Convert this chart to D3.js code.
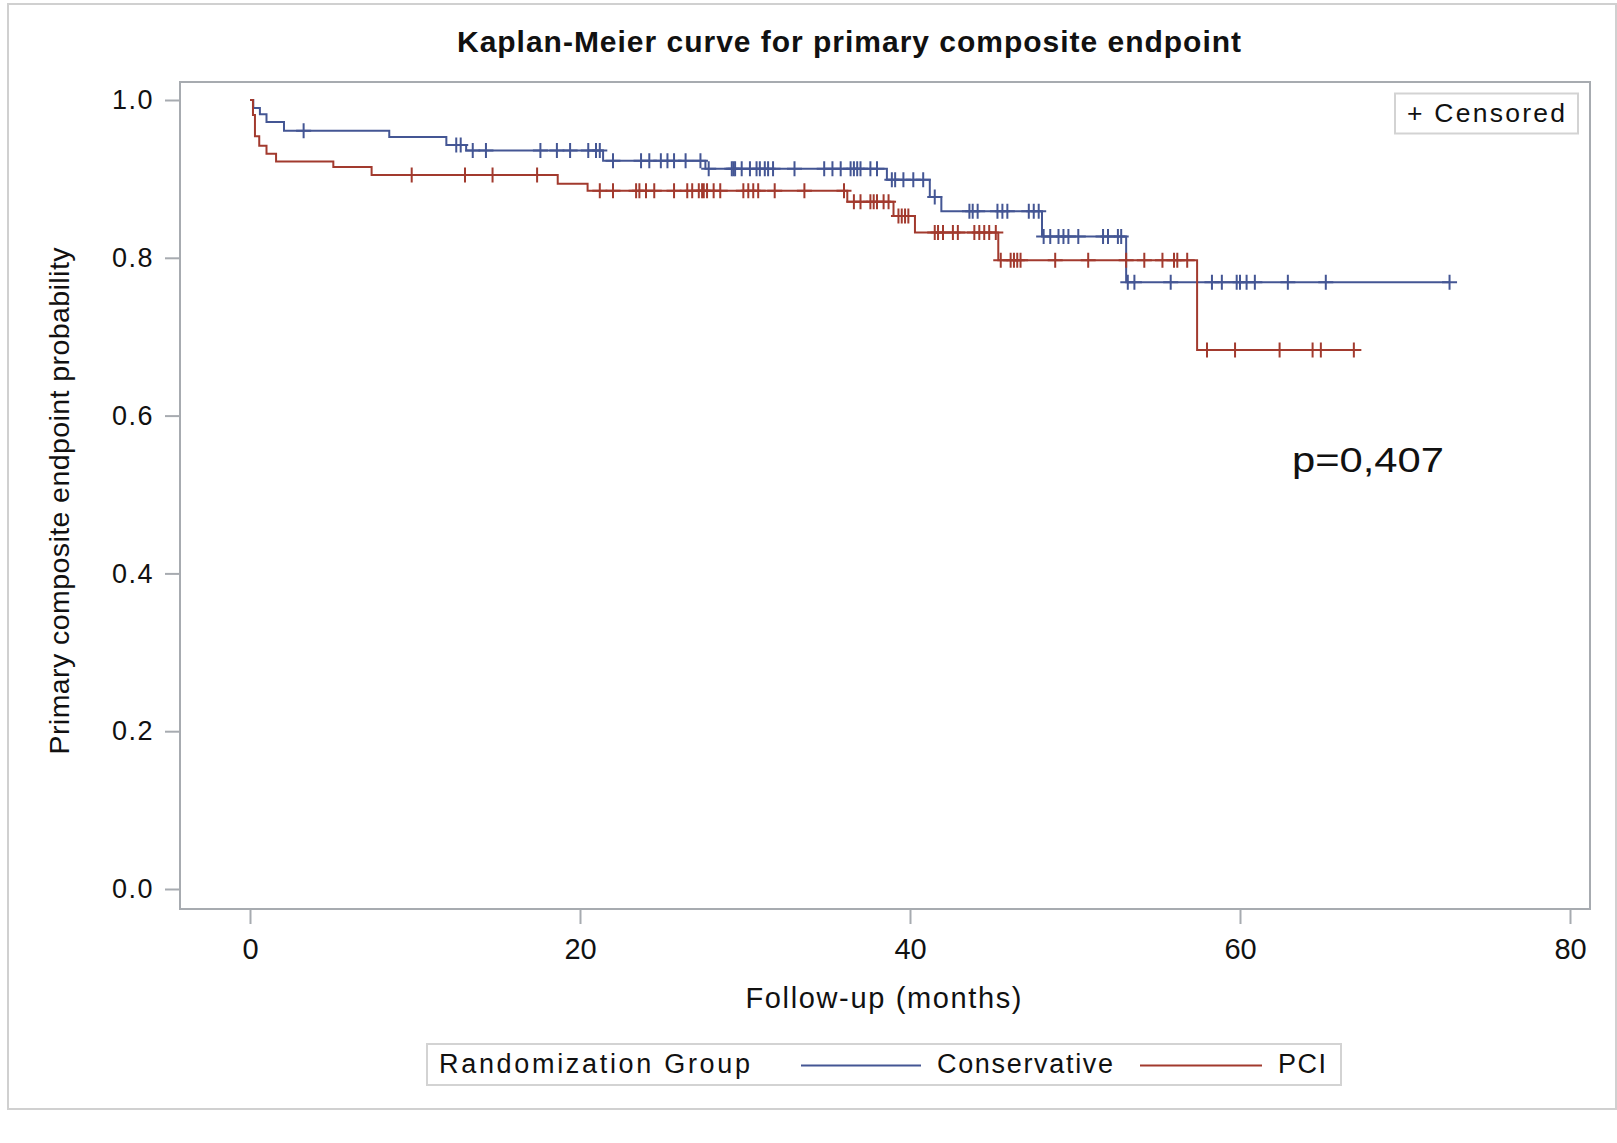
<!DOCTYPE html>
<html>
<head>
<meta charset="utf-8">
<script src="https://cdn.jsdelivr.net/npm/d3@7"></script>
<style>
  html, body { margin: 0; padding: 0; background: #ffffff; }
  svg { display: block; }
  text { font-family: "Liberation Sans", Arial, sans-serif; fill: #111; }
</style>
</head>
<body>
<svg id="chart" width="1617" height="1143"></svg>
<script>
// ---------------- data ----------------
const chartTitle = "Kaplan-Meier curve for primary composite endpoint";
const xAxisTitle = "Follow-up (months)";
const yAxisTitle = "Primary composite endpoint probability";
const legendTitle = "Randomization Group";
const groupNames = ["Conservative", "PCI"];
const pValueText = "p=0,407";
const censorLabel = "+ Censored";

const xTickValues = [0, 20, 40, 60, 80];
const yTickValues = [0.0, 0.2, 0.4, 0.6, 0.8, 1.0];

// Conservative: event times (months) and survival after each step
const conservativeTimes = [0, 0.2, 0.6, 1.0, 2.06, 8.44, 11.9, 13.1, 21.4, 27.6, 38.6, 41.2, 41.9, 48.0, 53.1];
const conservativeSurv  = [1.0, 0.990, 0.982, 0.972, 0.961, 0.953, 0.943, 0.936, 0.923, 0.913, 0.899, 0.877, 0.859, 0.827, 0.769];
const conservativeCensored = [3.25, 12.5, 12.77, 13.5, 14.3, 17.6, 18.6, 19.4, 20.5, 20.97, 21.2, 22.0,
  23.7, 24.2, 24.9, 25.3, 25.7, 26.4, 27.3, 27.8, 29.2, 29.3, 29.4, 29.8, 30.3, 30.7, 30.9, 31.2, 31.4, 31.7,
  33.0, 34.8, 35.3, 35.8, 36.4, 36.6, 36.8, 37.0, 37.6, 38.0, 38.9, 39.1, 39.6, 40.2, 40.8, 41.5,
  43.6, 43.8, 44.1, 45.3, 45.6, 45.9, 47.2, 47.5, 47.8, 48.1, 48.5, 49.0, 49.3, 49.6, 50.2, 51.7, 52.0,
  52.6, 52.8, 53.2, 53.6, 55.8, 58.3, 58.9, 59.8, 60.0, 60.4, 60.9, 62.9, 65.2, 72.7];

// PCI
const pciTimes = [0, 0.18, 0.3, 0.56, 1.0, 1.58, 5.05, 7.37, 18.65, 20.46, 36.2, 39.0, 40.3, 45.35, 57.4];
const pciSurv  = [1.0, 0.981, 0.954, 0.942, 0.932, 0.922, 0.915, 0.905, 0.894, 0.885, 0.871, 0.853, 0.832, 0.797, 0.683];
const pciCensored = [9.8, 13.03, 14.7, 17.4, 21.2, 22.0, 23.4, 23.6, 24.0, 24.5, 25.7, 26.5, 26.8, 27.2, 27.4,
  27.5, 27.7, 28.1, 28.5, 29.9, 30.2, 30.5, 30.8, 31.8, 33.6, 36.0, 36.6, 37.0, 37.6, 37.8, 38.0, 38.4, 38.7,
  39.3, 39.5, 39.7, 39.9, 41.5, 41.7, 42.0, 42.6, 42.9, 43.9, 44.2, 44.5, 44.8, 45.2, 45.5, 46.1, 46.3, 46.5, 46.7,
  48.8, 50.8, 53.1, 54.2, 55.3, 56.0, 56.2, 56.8, 58.0, 59.7, 62.4, 64.4, 64.9, 66.9];

const groupColors = ["#445694", "#A23A2E"];

// ---------------- drawing ----------------
const svg = d3.select("#chart");
const axisColor = "#a7abb0";

// outer frame
svg.append("rect").attr("x", 8).attr("y", 4).attr("width", 1608).attr("height", 1105)
  .attr("fill", "#fff").attr("stroke", "#d0d0d0").attr("stroke-width", 2);

const x = d3.scaleLinear().domain([0, 80]).range([250, 1570]);
const y = d3.scaleLinear().domain([0, 1]).range([889, 100]);

// plot wall
svg.append("rect").attr("x", 180).attr("y", 82).attr("width", 1410).attr("height", 827)
  .attr("fill", "none").attr("stroke", axisColor).attr("stroke-width", 2);

// title
svg.append("text").attr("x", 849).attr("y", 52).attr("text-anchor", "middle")
  .attr("font-size", 30).attr("font-weight", "bold").attr("fill", "#000")
  .attr("textLength", 784).attr("lengthAdjust", "spacing")
  .text(chartTitle);

// x axis
const gx = svg.append("g").attr("transform", "translate(0,909)")
  .call(d3.axisBottom(x).tickValues(xTickValues).tickSize(15).tickPadding(14).tickSizeOuter(0));
gx.select(".domain").remove();
gx.selectAll(".tick line").attr("stroke", axisColor).attr("stroke-width", 2);
gx.selectAll(".tick text").attr("font-size", 29).attr("font-family", "Liberation Sans, Arial, sans-serif").attr("fill", "#111");

// y axis
const gy = svg.append("g").attr("transform", "translate(180,0)")
  .call(d3.axisLeft(y).tickValues(yTickValues).tickFormat(d3.format(".1f")).tickSize(15).tickPadding(11).tickSizeOuter(0));
gy.select(".domain").remove();
gy.selectAll(".tick line").attr("stroke", axisColor).attr("stroke-width", 2);
gy.selectAll(".tick text").attr("font-size", 27).attr("letter-spacing", "1.5px")
  .attr("font-family", "Liberation Sans, Arial, sans-serif").attr("fill", "#111");

// axis titles
svg.append("text").attr("x", 883.5).attr("y", 1008).attr("text-anchor", "middle")
  .attr("font-size", 29).attr("textLength", 276).attr("lengthAdjust", "spacing").text(xAxisTitle);
svg.append("text").attr("transform", "translate(69,501) rotate(-90)").attr("text-anchor", "middle")
  .attr("font-size", 28.5).attr("textLength", 507).attr("lengthAdjust", "spacing").text(yAxisTitle);

// curves
const groups = [
  { name: groupNames[0], times: conservativeTimes, surv: conservativeSurv, cens: conservativeCensored, color: groupColors[0] },
  { name: groupNames[1], times: pciTimes, surv: pciSurv, cens: pciCensored, color: groupColors[1] }
];

function survAt(g, t) {
  let s = g.surv[0];
  for (let i = 0; i < g.times.length; i++) { if (g.times[i] <= t) s = g.surv[i]; }
  return s;
}

const stepLine = d3.line().x(d => x(d[0])).y(d => y(d[1])).curve(d3.curveStepAfter);
const plot = svg.append("g");

groups.forEach(g => {
  const pts = g.times.map((t, i) => [t, g.surv[i]]);
  const tEnd = d3.max(g.cens);
  pts.push([tEnd, survAt(g, tEnd)]);
  plot.append("path").datum(pts).attr("d", stepLine)
    .attr("fill", "none").attr("stroke", g.color).attr("stroke-width", 2);
  const half = 7.5;
  plot.append("g").selectAll("path").data(g.cens).join("path")
    .attr("d", t => {
      const cx = x(t), cy = y(survAt(g, t));
      return `M${cx - half},${cy}H${cx + half}M${cx},${cy - half}V${cy + half}`;
    })
    .attr("stroke", g.color).attr("stroke-width", 2).attr("fill", "none");
});

// censored inset legend
svg.append("rect").attr("x", 1395).attr("y", 93.5).attr("width", 183).attr("height", 40)
  .attr("fill", "#fff").attr("stroke", "#d3d3d3").attr("stroke-width", 2);
svg.append("text").attr("x", 1407).attr("y", 122).attr("font-size", 26.5)
  .attr("textLength", 158).attr("lengthAdjust", "spacing").text(censorLabel);

// p value
svg.append("text").attr("x", 1292).attr("y", 472).attr("font-size", 35)
  .attr("font-family", "'Noto Sans', 'Open Sans', sans-serif").attr("fill", "#000")
  .attr("textLength", 152).attr("lengthAdjust", "spacingAndGlyphs").text(pValueText);

// bottom legend
svg.append("rect").attr("x", 427).attr("y", 1044).attr("width", 914).attr("height", 41)
  .attr("fill", "#fff").attr("stroke", "#d3d3d3").attr("stroke-width", 2);
svg.append("text").attr("x", 439).attr("y", 1073).attr("font-size", 27)
  .attr("textLength", 311).attr("lengthAdjust", "spacing").text(legendTitle);
const legendItems = [
  { name: groupNames[0], color: groupColors[0], x0: 801, x1: 921, tx: 937, tl: 176 },
  { name: groupNames[1], color: groupColors[1], x0: 1140, x1: 1262, tx: 1278, tl: 48 }
];
legendItems.forEach(it => {
  svg.append("line").attr("x1", it.x0).attr("x2", it.x1).attr("y1", 1065.5).attr("y2", 1065.5)
    .attr("stroke", it.color).attr("stroke-width", 2);
  svg.append("text").attr("x", it.tx).attr("y", 1073).attr("font-size", 27)
    .attr("textLength", it.tl).attr("lengthAdjust", "spacing").text(it.name);
});
</script>
</body>
</html>
